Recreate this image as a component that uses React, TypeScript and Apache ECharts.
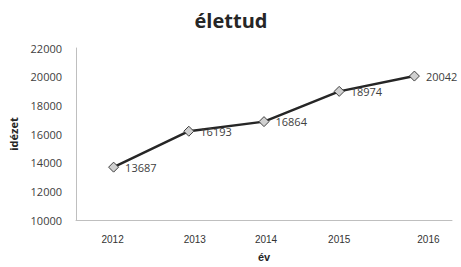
import React, { useEffect, useRef } from "react";
import * as echarts from "echarts";

const categories = ["2012", "2013", "2014", "2015", "2016"];
const values = [13687, 16193, 16864, 18974, 20042];
const titleText = "élettud";
const xName = "év";
const yName = "idézet";

export default function App() {
  const ref = useRef<HTMLDivElement>(null);
  useEffect(() => {
    const chart = echarts.init(ref.current!, undefined, { renderer: "svg" });
    // small horizontal nudges of the category labels, as in the reference
    const nudges = [-1, 6, 2, 0, 14];
    const rich: Record<string, any> = {};
    nudges.forEach((d, i) => {
      rich["c" + i] = {
        fontFamily: "Liberation Sans",
        fontSize: 10,
        color: "#333333",
        padding: d >= 0 ? [0, 0, 0, 2 * d] : [0, -2 * d, 0, 0],
      };
    });
    chart.setOption({
      animation: false,
      backgroundColor: "#ffffff",
      title: {
        text: titleText,
        left: 226,
        textAlign: "center",
        top: 5,
        textStyle: { fontFamily: "Open Sans", fontWeight: "bold", fontSize: 20, color: "#262626" },
      },
      grid: { left: 67, right: 9, top: 48, bottom: 45 },
      xAxis: {
        type: "category",
        data: categories,
        boundaryGap: true,
        name: xName,
        nameLocation: "middle",
        nameGap: 31,
        nameTextStyle: { fontFamily: "Liberation Sans", fontWeight: "bold", fontSize: 11, color: "#262626" },
        axisLine: { lineStyle: { color: "#bfbfbf", width: 1 } },
        axisTick: { show: false },
        axisLabel: {
          margin: 14,
          fontFamily: "Liberation Sans",
          fontSize: 10,
          color: "#333333",
          formatter: (v: string, i: number) => "{c" + i + "|" + v + "}",
          rich,
        },
      },
      yAxis: {
        type: "value",
        min: 10000,
        max: 22000,
        interval: 2000,
        name: yName,
        nameLocation: "middle",
        nameRotate: 90,
        nameGap: 57,
        nameTextStyle: { fontFamily: "Open Sans", fontWeight: "bold", fontSize: 11, color: "#262626" },
        axisLine: { show: true, lineStyle: { color: "#bfbfbf", width: 1 } },
        axisTick: { show: false },
        splitLine: { show: false },
        axisLabel: {
          margin: 14,
          fontFamily: "Open Sans",
          fontSize: 11,
          color: "#404040",
          formatter: (v: number) => String(v),
        },
      },
      series: [
        {
          type: "line",
          data: values,
          symbol: "diamond",
          symbolSize: 10,
          lineStyle: { color: "#262626", width: 2.5 },
          itemStyle: { color: "#d0d0d0", borderColor: "#404040", borderWidth: 1 },
          label: {
            show: true,
            position: "right",
            distance: 6,
            fontFamily: "Open Sans",
            fontSize: 11,
            color: "#404040",
            formatter: (p: any) => String(p.value),
          },
        },
      ],
    });
    return () => chart.dispose();
  }, []);
  return (
    <div
      ref={ref}
      style={{ position: "fixed", left: 0, top: 0, width: 461, height: 267 }}
    />
  );
}
